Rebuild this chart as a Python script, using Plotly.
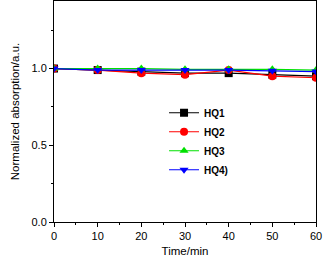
import plotly.graph_objects as go

time = [0, 10, 20, 30, 40, 50, 60]
hq1 = [1.0, 0.99, 0.98, 0.97, 0.97, 0.96, 0.95]
hq2 = [1.0, 0.99, 0.97, 0.96, 0.99, 0.95, 0.94]
hq3 = [1.0, 1.0, 1.0, 0.995, 0.995, 0.995, 0.99]
hq4 = [1.0, 0.99, 0.99, 0.99, 0.99, 0.985, 0.98]
names = ["HQ1", "HQ2", "HQ3", "HQ4)"]
colors = ["#000000", "#ff0000", "#00e000", "#0000ff"]
symbols = ["square", "circle", "triangle-up", "triangle-down"]

fig = go.Figure()
for name, ys, c, s in zip(names, [hq1, hq2, hq3, hq4], colors, symbols):
    fig.add_trace(go.Scatter(x=time, y=ys, name=name, mode="lines+markers",
                             line=dict(color=c, width=1.2),
                             marker=dict(color=c, symbol=s, size=8)))

axis_common = dict(showline=True, linecolor="black", linewidth=1, mirror=True,
                   ticks="outside", ticklen=4, tickcolor="black", showgrid=False,
                   zeroline=False, tickfont=dict(size=11, color="black"),
                   minor=dict(ticks="outside", ticklen=2, tickcolor="black"))
fig.update_xaxes(range=[0, 60], tickvals=[0, 10, 20, 30, 40, 50, 60],
                 minor_dtick=5,
                 title=dict(text="Time/min", font=dict(size=11.5, color="black"), standoff=5),
                 **axis_common)
fig.update_yaxes(range=[0, 1.44], tickvals=[0.0, 0.5, 1.0], ticktext=["0.0", "0.5", "1.0"],
                 minor_dtick=0.25,
                 title=dict(text="Normalized absorption/a.u.", font=dict(size=11.5, color="black"), standoff=9),
                 **axis_common)
fig.update_layout(width=326, height=268, margin=dict(l=54, r=10, t=1, b=46),
                  paper_bgcolor="white", plot_bgcolor="white",
                  font=dict(family="Liberation Sans, Arial, sans-serif", color="black"),
                  legend=dict(x=0.42, y=0.56, xanchor="left", yanchor="top",
                              font=dict(size=10, color="black", weight="bold"),
                              bgcolor="rgba(0,0,0,0)", tracegroupgap=0,
                              itemwidth=30))
fig.write_html("out.html", config={"displayModeBar": False},
               post_script="document.body.style.margin='0';document.body.style.padding='0';")
